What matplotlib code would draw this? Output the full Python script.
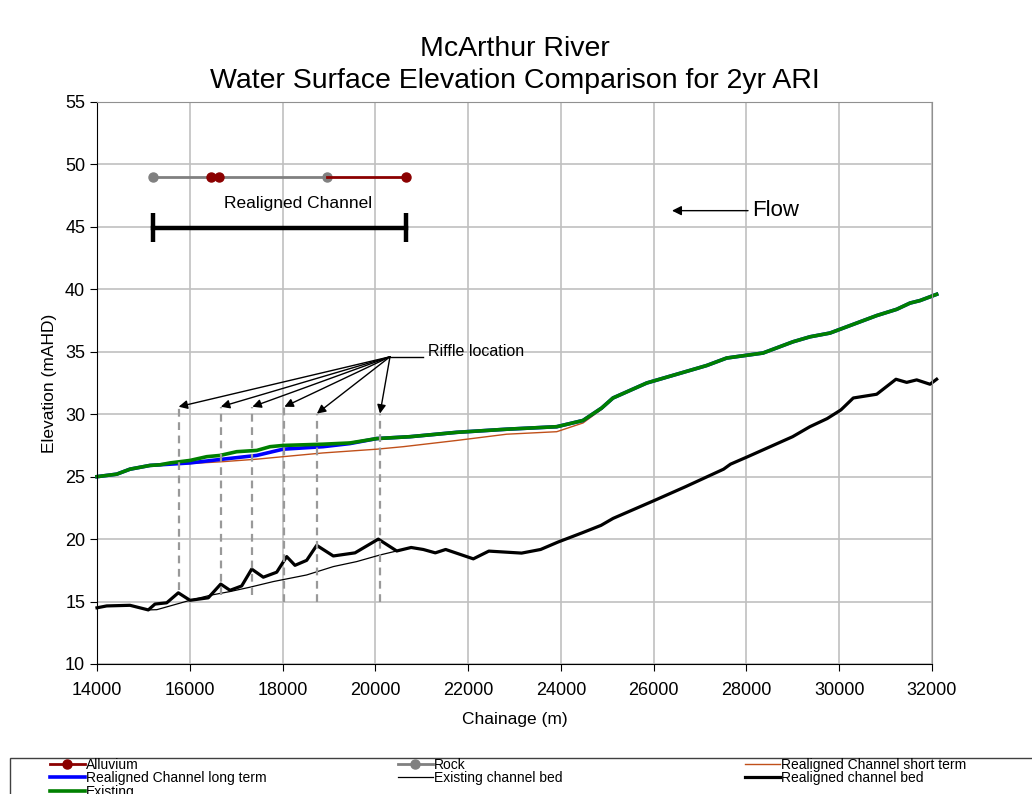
import matplotlib
matplotlib.use('Agg')
import matplotlib.pyplot as plt
from matplotlib.patches import Rectangle

plt.rcParams['font.family'] = ['Liberation Sans', 'DejaVu Sans']

# water surface elevations (mAHD) against chainage (m)
existing_ch = [14000, 14425, 14711, 15143, 15358, 15574, 16005, 16365, 16652, 17012,
               17443, 17729, 18010, 18872, 19454, 20030, 20747, 21754, 22832, 23910,
               24477, 24880, 25123, 25850, 26497, 27143, 27574, 28357, 29003, 29370,
               29801, 30017, 30377, 30808, 31239, 31526, 31741, 32100]
existing_wse = [25.0, 25.2, 25.6, 25.9, 25.95, 26.1, 26.3, 26.6, 26.7, 27.0,
                27.1, 27.4, 27.5, 27.6, 27.7, 28.05, 28.2, 28.55, 28.8, 29.0,
                29.5, 30.5, 31.3, 32.5, 33.2, 33.9, 34.5, 34.9, 35.8, 36.2,
                36.5, 36.8, 37.3, 37.9, 38.4, 38.9, 39.1, 39.6]

long_ch = [14000, 14425, 14711, 15143, 15358, 15574, 16005, 16710, 17443, 18010,
           18872, 19454, 20030, 20747, 21754, 22832, 23910, 24477, 24880, 25123,
           25850, 26497, 27143, 27574, 28357, 29003, 29370, 29801, 30017, 30377,
           30808, 31239, 31526, 31741, 32100]
long_wse = [25.0, 25.2, 25.6, 25.9, 25.95, 26.0, 26.1, 26.4, 26.7, 27.2,
            27.4, 27.65, 28.05, 28.2, 28.55, 28.8, 29.0, 29.5, 30.5, 31.3,
            32.5, 33.2, 33.9, 34.5, 34.9, 35.8, 36.2, 36.5, 36.8, 37.3,
            37.9, 38.4, 38.9, 39.1, 39.6]

short_ch = [14000, 14425, 14711, 15143, 15358, 15574, 16005, 16710, 17443, 18010,
            18872, 20030, 20600, 21754, 22832, 23910, 24477, 24880, 25123, 25850,
            26497, 27143, 27574, 28357, 29003, 29370, 29801, 30017, 30377, 30808,
            31239, 31526, 31741, 32100]
short_wse = [25.0, 25.2, 25.6, 25.9, 25.95, 26.0, 26.05, 26.2, 26.4, 26.6,
             26.9, 27.2, 27.4, 27.9, 28.4, 28.6, 29.3, 30.4, 31.3, 32.5,
             33.2, 33.9, 34.5, 34.9, 35.8, 36.2, 36.5, 36.8, 37.3, 37.9,
             38.4, 38.9, 39.1, 39.6]

# bed levels
bed_new_ch = [14000, 14209, 14711, 15106, 15250, 15503, 15753, 16005, 16399, 16667,
              16867, 17119, 17335, 17585, 17874, 18089, 18268, 18520, 18736, 19094,
              19562, 20064, 20461, 20772, 21033, 21293, 21516, 22112, 22447, 23153,
              23563, 23935, 24456, 24865, 25126, 26019, 26688, 27507, 27656, 28028,
              28995, 29367, 29740, 30038, 30303, 30808, 31223, 31454, 31670, 31957,
              32100]
bed_new = [14.5, 14.65, 14.7, 14.33, 14.8, 14.9, 15.7, 15.1, 15.3, 16.4,
           15.9, 16.25, 17.6, 16.95, 17.35, 18.6, 17.9, 18.3, 19.5, 18.65,
           18.9, 20.0, 19.05, 19.33, 19.17, 18.9, 19.17, 18.42, 19.04, 18.88,
           19.17, 19.76, 20.5, 21.1, 21.66, 23.1, 24.2, 25.6, 26.0, 26.6,
           28.2, 29.0, 29.65, 30.35, 31.3, 31.6, 32.8, 32.55, 32.75, 32.4,
           32.8]

bed_old_ch = [14000, 14209, 14711, 15106, 15290, 15720, 16005, 16436, 16867, 17298,
              17800, 18520, 19094, 19598, 20101, 20461, 20772, 21033, 21293, 21516,
              22112, 22447, 23153, 23563, 23935, 24456, 24865, 25126, 26019, 26688,
              27507, 27656, 28028, 28995, 29367, 29740, 30038, 30303, 30808, 31223,
              31454, 31670, 31957, 32100]
bed_old = [14.5, 14.65, 14.7, 14.33, 14.35, 14.8, 15.1, 15.5, 15.8, 16.15,
           16.6, 17.13, 17.8, 18.2, 18.73, 19.05, 19.33, 19.17, 18.9, 19.17,
           18.42, 19.04, 18.88, 19.17, 19.76, 20.5, 21.1, 21.66, 23.1, 24.2,
           25.6, 26.0, 26.6, 28.2, 29.0, 29.65, 30.35, 31.3, 31.6, 32.8,
           32.55, 32.75, 32.4, 32.8]

# geology strip along the realigned reach
rock_ch = [15207, 18958]
alluvium_ch = [16457, 16630, float('nan'), 18958, 20661]
strip_level = 49.0

realign_start = 15207
realign_end = 20661
realign_level = 44.9

# riffles
riffle_ch = [15760, 16670, 17350, 18040, 18740, 20100]
riffle_top = [30.6, 30.6, 30.6, 30.6, 30.05, 30.05]
riffle_bottom = [15.9, 15.5, 15.5, 15.0, 15.0, 15.0]

fig = plt.figure(figsize=(10.32, 7.94), dpi=100)
ax = fig.add_axes([97 / 1032, 1 - 664 / 794, 835 / 1032, 562 / 794])

l_all, = ax.plot(alluvium_ch, [strip_level] * len(alluvium_ch), color='#8b0000', lw=2,
                 marker='o', ms=6.5, markevery=[0, 1, 4], zorder=4, label='Alluvium')
l_rock, = ax.plot(rock_ch, [strip_level] * len(rock_ch), color='#808080', lw=2,
                  marker='o', ms=6.5, zorder=3, label='Rock')
l_short, = ax.plot(short_ch, short_wse, color='#c0501a', lw=1.0, clip_on=False,
                   label='Realigned Channel short term')
l_long, = ax.plot(long_ch, long_wse, color='#0000ff', lw=2.6, clip_on=False,
                  label='Realigned Channel long term')
l_old, = ax.plot(bed_old_ch, bed_old, color='black', lw=0.9, clip_on=False,
                 label='Existing channel bed')
l_new, = ax.plot(bed_new_ch, bed_new, color='black', lw=2.3, clip_on=False,
                 label='Realigned channel bed')
l_ex, = ax.plot(existing_ch, existing_wse, color='#008000', lw=2.6, clip_on=False,
                label='Existing')

# riffle markers
ax.vlines(riffle_ch, riffle_bottom, riffle_top, colors='#999999', lw=1.6,
          linestyles=(0, (3.5, 2.5)), zorder=5)
src = (20316, 34.6)
for x, top in zip(riffle_ch, riffle_top):
    ax.annotate('', xy=(x, top), xytext=src,
                arrowprops=dict(arrowstyle='-|>', color='black', lw=1,
                                mutation_scale=13, shrinkA=0, shrinkB=0))
ax.plot([src[0], 21030], [src[1], src[1]], color='black', lw=1)
ax.text(21135, 35.0, 'Riffle location', fontsize=11.5, va='center', ha='left')

# realigned channel extent
ax.plot([realign_start, realign_end], [realign_level, realign_level], color='black', lw=3.2)
ax.vlines([realign_start, realign_end], 43.8, 46.1, colors='black', lw=3.2)
ax.text(18333, 46.9, 'Realigned Channel', fontsize=12.5, ha='center', va='center')

# flow direction
ax.annotate('', xy=(26395, 46.3), xytext=(28034, 46.3),
            arrowprops=dict(arrowstyle='-|>', color='black', lw=1,
                            mutation_scale=14, shrinkA=0, shrinkB=0))
ax.text(28120, 46.3, 'Flow', fontsize=16, va='center', ha='left')

ax.set_xlim(14000, 32000)
ax.set_ylim(10, 55)
ax.set_xticks(range(14000, 32001, 2000))
ax.set_yticks(range(10, 56, 5))
ax.tick_params(labelsize=13, direction='out', length=5, color='black')
ax.tick_params(axis='x', pad=8)
ax.grid(True, color='#c0c0c0', lw=1.2)
ax.set_axisbelow(True)
for side in ['top', 'right']:
    ax.spines[side].set_color('#909090')
for side in ['left', 'bottom']:
    ax.spines[side].set_color('black')

ax.set_xlabel('Chainage (m)', fontsize=12.5)
ax.xaxis.set_label_coords(0.5, -0.085)
ax.set_ylabel('Elevation (mAHD)', fontsize=12.5)
ax.yaxis.set_label_coords(-0.048, 0.5)
ax.set_title('McArthur River\nWater Surface Elevation Comparison for 2yr ARI',
             fontsize=20.5, pad=10, linespacing=1.3)

# legend along the bottom, one block per column
fig.add_artist(Rectangle((10 / 1032, -0.1), 1.1, 0.1 + 1 - 758 / 794,
                         transform=fig.transFigure, fill=False,
                         edgecolor='#404040', lw=1))
cols = [([l_all, l_long, l_ex], 50), ([l_rock, l_old], 398), ([l_short, l_new], 745)]
for handles, xpos in cols:
    fig.legend(handles=handles, loc='upper left',
               bbox_to_anchor=(xpos / 1032, 1 - 758 / 794),
               frameon=False, fontsize=10, borderpad=0, borderaxespad=0,
               handlelength=2.5, handletextpad=0.1, labelspacing=-0.05)

fig.savefig('out.png', dpi=100)
